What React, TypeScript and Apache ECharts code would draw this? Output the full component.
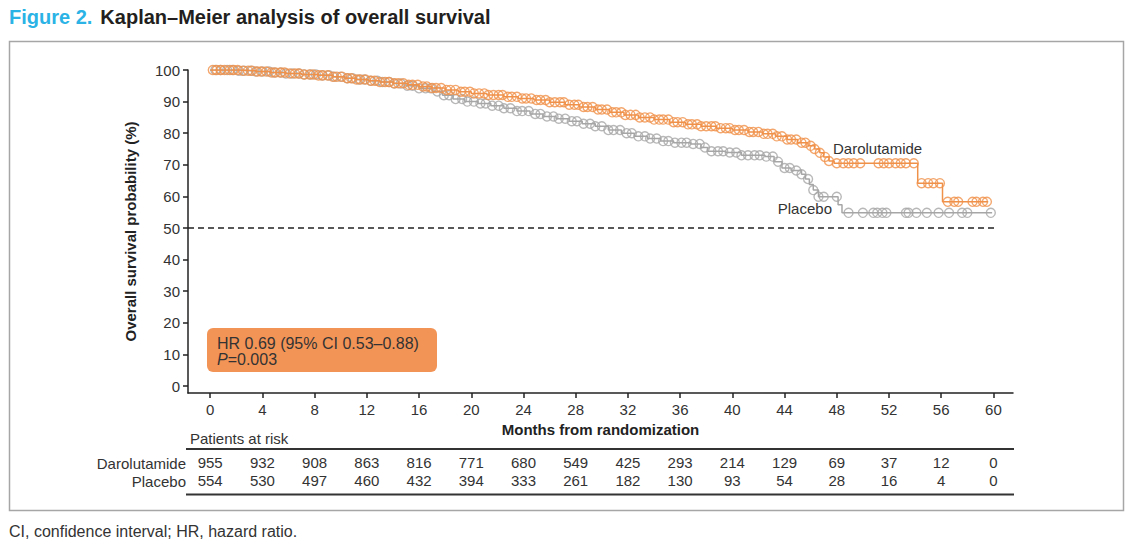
import React, { useEffect, useRef } from "react";
import * as echarts from "echarts";

// ---------- DATA ----------
const MONTH_TICKS = [0, 4, 8, 12, 16, 20, 24, 28, 32, 36, 40, 44, 48, 52, 56, 60];
const Y_TICKS = [0, 10, 20, 30, 40, 50, 60, 70, 80, 90, 100];
const DARO_RISK = [955, 932, 908, 863, 816, 771, 680, 549, 425, 293, 214, 129, 69, 37, 12, 0];
const PLAC_RISK = [554, 530, 497, 460, 432, 394, 333, 261, 182, 130, 93, 54, 28, 16, 4, 0];

// Kaplan–Meier step breakpoints (month, survival %)
const DARO_T = [0, 2.2, 3.5, 4.6, 5.8, 7.0, 8.3, 9.4, 10.3, 11.2, 12.1, 13.0, 14.0, 15.1, 16.0, 17.0, 18.0, 19.0, 20.0, 21.2, 22.5, 23.6, 24.8, 26.0, 27.2, 28.3, 29.5, 30.6, 31.7, 32.8, 34.0, 35.2, 36.4, 37.6, 38.8, 40.0, 41.2, 42.3, 43.3, 44.2, 45.0, 45.8, 46.3, 46.7, 47.0, 47.4, 47.8, 54.2, 56.1, 59.6];
const DARO_S = [100, 99.8, 99.5, 99.2, 98.9, 98.6, 98.3, 97.9, 97.4, 97.0, 96.6, 96.2, 95.8, 95.3, 94.8, 94.3, 93.7, 93.1, 92.6, 92.1, 91.5, 91.0, 90.5, 89.8, 89.0, 88.3, 87.5, 86.6, 85.8, 85.0, 84.3, 83.5, 82.8, 82.2, 81.6, 81.0, 80.4, 79.8, 79.0, 78.0, 77.0, 76.0, 75.0, 73.8, 72.5, 71.2, 70.5, 64.2, 58.3, 58.3];
const PLAC_T = [0, 2.2, 3.5, 4.6, 5.8, 7.0, 8.3, 9.4, 10.3, 11.2, 12.1, 13.0, 14.0, 15.0, 16.0, 17.0, 17.8, 18.6, 19.5, 20.5, 21.5, 22.5, 23.5, 24.5, 25.5, 26.5, 27.5, 28.5, 29.5, 30.5, 31.5, 32.5, 33.5, 34.5, 35.5, 36.8, 37.6, 38.1, 39.5, 40.7, 42.5, 43.2, 43.8, 44.5, 45.3, 45.6, 45.9, 46.2, 46.6, 48.1, 48.4, 59.9];
const PLAC_S = [100, 99.8, 99.5, 99.2, 98.9, 98.6, 98.3, 97.9, 97.4, 97.0, 96.6, 96.2, 95.7, 95.0, 94.2, 93.2, 92.0, 90.8, 90.0, 89.4, 88.7, 87.9, 87.0, 86.1, 85.3, 84.6, 83.8, 83.0, 82.2, 81.0, 80.0, 79.0, 78.3, 77.5, 77.0, 76.6, 75.5, 74.3, 73.9, 73.0, 72.6, 71.0, 69.0, 68.2, 67.0, 65.5, 63.8, 62.0, 59.9, 57.4, 54.8, 54.8];

// Censoring times (months)
const DARO_CENSOR = [0.2, 0.5, 0.8, 1.1, 1.5, 1.8, 2.1, 2.5, 2.9, 3.2, 3.6, 3.9, 4.3, 4.7, 5.0, 5.4, 5.7, 6.1, 6.5, 6.8, 7.2, 7.6, 7.9, 8.3, 8.6, 9.0, 9.4, 9.7, 10.1, 10.5, 10.8, 11.2, 11.5, 11.9, 12.3, 12.6, 13.0, 13.4, 13.7, 14.1, 14.4, 14.8, 15.2, 15.5, 15.9, 16.3, 16.6, 17.0, 17.3, 17.7, 18.1, 18.4, 18.8, 19.2, 19.5, 19.9, 20.2, 20.6, 21.0, 21.3, 21.7, 22.1, 22.4, 22.8, 23.1, 23.5, 23.9, 24.2, 24.6, 25.0, 25.3, 25.7, 26.0, 26.4, 26.8, 27.1, 27.5, 27.9, 28.2, 28.6, 28.9, 29.3, 29.7, 30.0, 30.4, 30.8, 31.1, 31.5, 31.8, 32.2, 32.6, 32.9, 33.3, 33.7, 34.0, 34.4, 34.7, 35.1, 35.5, 35.8, 36.2, 36.6, 36.9, 37.3, 37.6, 38.0, 38.4, 38.7, 39.1, 39.5, 39.8, 40.2, 40.5, 40.9, 41.3, 41.6, 42.0, 42.4, 42.7, 43.1, 43.4, 43.8, 44.2, 44.5, 44.9, 45.3, 45.6, 46.0, 46.3, 46.7, 47.1, 47.4, 48.0, 48.5, 48.9, 49.3, 49.8, 51.2, 51.6, 52.0, 52.5, 52.9, 53.3, 53.9, 54.5, 55.0, 55.4, 55.9, 56.5, 57.0, 57.3, 58.4, 58.7, 59.2, 59.5];
const PLAC_CENSOR = [0.4, 0.8, 1.3, 1.7, 2.2, 2.6, 3.1, 3.5, 4.0, 4.5, 4.9, 5.4, 5.8, 6.3, 6.8, 7.2, 7.7, 8.1, 8.6, 9.1, 9.5, 10.0, 10.5, 10.9, 11.4, 11.8, 12.3, 12.8, 13.2, 13.7, 14.1, 14.6, 15.1, 15.5, 16.0, 16.5, 16.9, 17.4, 17.9, 18.3, 18.8, 19.3, 19.7, 20.2, 20.7, 21.1, 21.6, 22.1, 22.5, 23.0, 23.5, 23.9, 24.4, 24.9, 25.3, 25.8, 26.3, 26.7, 27.2, 27.7, 28.1, 28.6, 29.1, 29.5, 30.0, 30.5, 30.9, 31.4, 31.9, 32.3, 32.8, 33.3, 33.7, 34.2, 34.7, 35.1, 35.6, 36.1, 36.5, 37.0, 37.5, 37.9, 38.4, 38.9, 39.3, 39.8, 40.3, 40.7, 41.2, 41.7, 42.1, 42.6, 43.1, 43.5, 44.0, 44.4, 44.9, 45.3, 45.8, 46.2, 46.6, 47.0, 48.0, 48.9, 50.0, 50.8, 51.1, 51.5, 51.8, 53.3, 53.5, 54.1, 54.9, 55.8, 56.6, 57.6, 58.0, 59.8];

const REF_LINE = 50;
const REF_LINE_END = 60.3;
const X_MIN = -1.7;
const X_MAX = 61.5;
const Y_MIN = -2.2;
const Y_MAX = 100;

// ---------- STYLE ----------
const ORANGE = "#F0914A";
const BOX_ORANGE = "#F39457";
const GRAY = "#A6A6A6";
const INK = "#333333";
const FONT = "'Liberation Sans', Arial, Helvetica, sans-serif";

function stepValue(t: number, T: number[], S: number[]): number {
  let v = S[0];
  for (let i = 0; i < T.length; i++) {
    if (T[i] <= t) v = S[i];
    else break;
  }
  return v;
}

export default function App() {
  const ref = useRef<HTMLDivElement>(null);

  useEffect(() => {
    if (!ref.current) return;
    const chart = echarts.init(ref.current, undefined, { renderer: "svg" });

    const daroLine = DARO_T.map((t, i) => [t, DARO_S[i]]);
    const placLine = PLAC_T.map((t, i) => [t, PLAC_S[i]]);
    const daroCens = DARO_CENSOR.map((t) => [t, stepValue(t, DARO_T, DARO_S)]);
    const placCens = PLAC_CENSOR.map((t) => [t, stepValue(t, PLAC_T, PLAC_S)]);

    const axisLineStyle = { color: "#222", width: 1.5 };

    const riskAxis = (offset: number, values: number[]) => ({
      type: "value",
      gridIndex: 0,
      position: "bottom",
      offset,
      min: X_MIN,
      max: X_MAX,
      axisLine: { show: false },
      axisTick: { show: false },
      splitLine: { show: false },
      axisLabel: {
        customValues: MONTH_TICKS,
        margin: 0,
        fontSize: 15,
        fontFamily: FONT,
        color: INK,
        formatter: (v: number) => {
          const idx = MONTH_TICKS.indexOf(Math.round(v));
          return idx >= 0 ? String(values[idx]) : "";
        },
      },
    });

    chart.setOption({
      animation: false,
      backgroundColor: "#ffffff",
      grid: {
        left: 188,
        right: 121,
        top: 70,
        bottom: 159,
        containLabel: false,
        outerBoundsMode: "none",
      },
      xAxis: [
        {
          type: "value",
          min: X_MIN,
          max: X_MAX,
          position: "bottom",
          axisLine: { onZero: false, lineStyle: axisLineStyle },
          axisTick: { customValues: MONTH_TICKS, length: 5, lineStyle: axisLineStyle },
          axisLabel: {
            customValues: MONTH_TICKS,
            fontSize: 15,
            fontFamily: FONT,
            color: INK,
            margin: 9,
          },
          splitLine: { show: false },
          name: "Months from randomization",
          nameLocation: "middle",
          nameGap: 26,
          nameTextStyle: { fontSize: 15, fontWeight: "bold", fontFamily: FONT, color: "#222" },
        },
        riskAxis(62, DARO_RISK),
        riskAxis(80, PLAC_RISK),
      ],
      yAxis: {
        type: "value",
        min: Y_MIN,
        max: Y_MAX,
        axisLine: { show: true, onZero: false, lineStyle: axisLineStyle },
        axisTick: { show: true, customValues: Y_TICKS, length: 5, lineStyle: axisLineStyle },
        axisLabel: {
          customValues: Y_TICKS,
          fontSize: 15,
          fontFamily: FONT,
          color: INK,
          margin: 8,
        },
        splitLine: { show: false },
        name: "Overall survival probability (%)",
        nameLocation: "middle",
        nameGap: 50,
        nameTextStyle: { fontSize: 15, fontWeight: "bold", fontFamily: FONT, color: "#222" },
      },
      series: [
        {
          name: "Placebo",
          type: "line",
          step: "end",
          xAxisIndex: 0,
          data: placLine,
          showSymbol: false,
          symbol: "none",
          lineStyle: { color: GRAY, width: 1.5 },
          z: 2,
          markLine: {
            silent: true,
            symbol: "none",
            label: { show: false },
            lineStyle: { type: [6, 4], color: "#222", width: 1.5 },
            data: [[{ coord: [X_MIN, REF_LINE] }, { coord: [REF_LINE_END, REF_LINE] }]],
          },
        },
        {
          name: "Placebo censored",
          type: "scatter",
          xAxisIndex: 0,
          data: placCens,
          symbol: "circle",
          symbolSize: 9,
          itemStyle: { color: "rgba(255,255,255,0)", borderColor: GRAY, borderWidth: 1.4 },
          z: 2,
        },
        {
          name: "Darolutamide",
          type: "line",
          step: "end",
          xAxisIndex: 0,
          data: daroLine,
          showSymbol: false,
          symbol: "none",
          lineStyle: { color: ORANGE, width: 1.5 },
          z: 3,
        },
        {
          name: "Darolutamide censored",
          type: "scatter",
          xAxisIndex: 0,
          data: daroCens,
          symbol: "circle",
          symbolSize: 9,
          itemStyle: { color: "rgba(255,255,255,0)", borderColor: ORANGE, borderWidth: 1.4 },
          z: 3,
        },
      ],
      graphic: [
        {
          type: "text",
          x: 9,
          y: 17,
          style: {
            text: "{a|Figure 2.}{s| }{b|Kaplan–Meier analysis of overall survival}",
            verticalAlign: "middle",
            rich: {
              a: { fontSize: 20, fontWeight: "bold", fontFamily: FONT, fill: "#2BB3E6" },
              s: { fontSize: 20, fontWeight: "bold", fontFamily: FONT, fill: "#231F20", width: 8 },
              b: { fontSize: 20, fontWeight: "bold", fontFamily: FONT, fill: "#231F20" },
            },
          },
        },
        {
          type: "rect",
          shape: { x: 9.5, y: 41.5, width: 1114, height: 469 },
          style: { fill: "none", stroke: "#A6A6A6", lineWidth: 1.5 },
          z: 0,
        },
        {
          type: "rect",
          shape: { x: 207, y: 328, width: 230, height: 44, r: 6 },
          style: { fill: BOX_ORANGE },
          z: 10,
        },
        {
          type: "text",
          x: 217,
          y: 343,
          style: { text: "HR 0.69 (95% CI 0.53–0.88)", fontSize: 16, fontFamily: FONT, fill: INK, verticalAlign: "middle" },
          z: 11,
        },
        {
          type: "text",
          x: 217,
          y: 359,
          style: {
            text: "{i|P}{n|=0.003}",
            verticalAlign: "middle",
            rich: {
              i: { fontSize: 16, fontStyle: "italic", fontFamily: FONT, fill: INK },
              n: { fontSize: 16, fontFamily: FONT, fill: INK },
            },
          },
          z: 11,
        },
        {
          type: "text",
          x: 833,
          y: 148,
          style: { text: "Darolutamide", fontSize: 15, fontFamily: FONT, fill: INK, verticalAlign: "middle" },
          z: 11,
        },
        {
          type: "text",
          x: 832,
          y: 208,
          style: { text: "Placebo", fontSize: 15, fontFamily: FONT, fill: INK, align: "right", verticalAlign: "middle" },
          z: 11,
        },
        {
          type: "text",
          x: 190,
          y: 438,
          style: { text: "Patients at risk", fontSize: 15, fontFamily: FONT, fill: INK, verticalAlign: "middle" },
        },
        {
          type: "line",
          shape: { x1: 186, y1: 449, x2: 1014, y2: 449 },
          style: { stroke: "#333", lineWidth: 2 },
        },
        {
          type: "line",
          shape: { x1: 186, y1: 494.5, x2: 1014, y2: 494.5 },
          style: { stroke: "#333", lineWidth: 2 },
        },
        {
          type: "text",
          x: 186,
          y: 463,
          style: { text: "Darolutamide", fontSize: 15, fontFamily: FONT, fill: INK, align: "right", verticalAlign: "middle" },
        },
        {
          type: "text",
          x: 186,
          y: 481,
          style: { text: "Placebo", fontSize: 15, fontFamily: FONT, fill: INK, align: "right", verticalAlign: "middle" },
        },
        {
          type: "text",
          x: 9,
          y: 531,
          style: { text: "CI, confidence interval; HR, hazard ratio.", fontSize: 16, fontFamily: FONT, fill: INK, verticalAlign: "middle" },
        },
      ],
    });

    return () => chart.dispose();
  }, []);

  return (
    <div
      ref={ref}
      style={{ position: "absolute", left: 0, top: 0, width: 1134, height: 552, background: "#fff" }}
    />
  );
}
